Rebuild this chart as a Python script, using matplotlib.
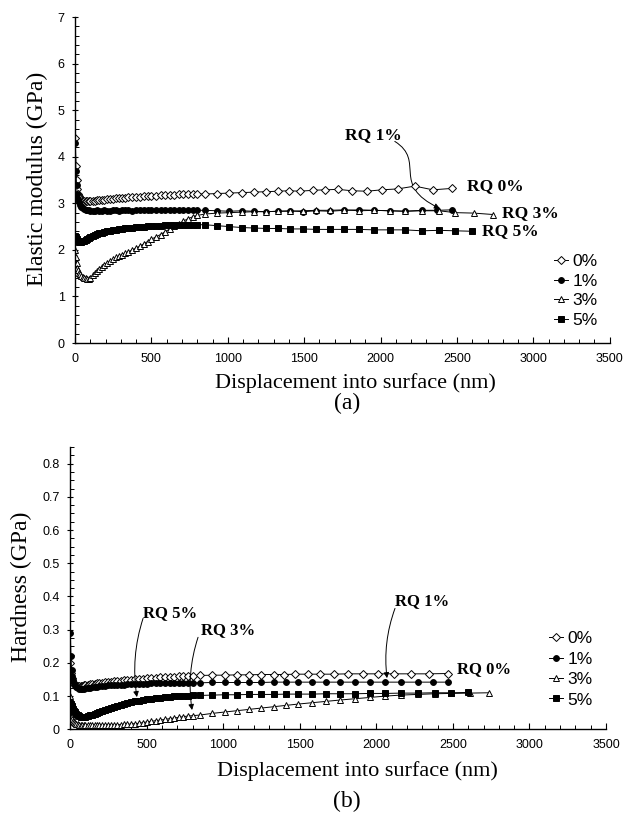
import matplotlib.pyplot as plt
import matplotlib.ticker as mtick
from matplotlib.path import Path
from matplotlib.patches import FancyArrowPatch

SERIF = 'Liberation Serif'
SANS = 'Liberation Sans'

# depth (nm) of the densely sampled start of every curve
depth_early = [2, 6, 10, 15, 20, 25, 30, 40, 50, 60, 70, 80, 90, 100,
               115, 130, 145, 160, 175, 190, 210, 230, 250, 270, 290, 310,
               330, 350, 375, 400, 425, 450, 475, 500, 530, 560, 590, 620,
               650, 680, 710, 740, 770, 800]

# later, sparser depths (nm)
late_0 = [850, 930, 1010, 1090, 1170, 1250, 1330, 1400, 1472, 1557, 1635,
          1721, 1812, 1910, 2008, 2113, 2224, 2342, 2466]
late_1 = [850, 930, 1010, 1090, 1170, 1250, 1330, 1410, 1490, 1580, 1670,
          1760, 1860, 1960, 2060, 2160, 2270, 2370, 2466]
late_3 = [850, 930, 1010, 1090, 1170, 1250, 1330, 1410, 1490, 1580, 1670,
          1760, 1860, 1960, 2060, 2160, 2270, 2380, 2490, 2610, 2735]
late_5 = [850, 930, 1010, 1090, 1170, 1250, 1330, 1410, 1490, 1580, 1670,
          1760, 1860, 1960, 2060, 2160, 2270, 2380, 2490, 2597]

# (a) elastic modulus, GPa
E0_early = [4.40, 3.80, 3.50, 3.30, 3.20, 3.15, 3.11, 3.08, 3.06, 3.05, 3.04,
            3.04, 3.04, 3.05, 3.05, 3.06, 3.07, 3.07, 3.08, 3.08, 3.09, 3.10,
            3.10, 3.11, 3.11, 3.12, 3.12, 3.13, 3.13, 3.14, 3.14, 3.15, 3.15,
            3.16, 3.16, 3.17, 3.17, 3.18, 3.18, 3.19, 3.19, 3.19, 3.20, 3.20]
E0_late = [3.20, 3.21, 3.22, 3.23, 3.24, 3.25, 3.26, 3.27, 3.26, 3.28, 3.29,
           3.30, 3.27, 3.26, 3.29, 3.31, 3.37, 3.29, 3.32]
E1_early = [4.30, 3.70, 3.40, 3.20, 3.10, 3.02, 2.97, 2.92, 2.89, 2.87, 2.86,
            2.85, 2.85, 2.84, 2.84, 2.84, 2.85, 2.84, 2.84, 2.85, 2.84, 2.84,
            2.85, 2.85, 2.84, 2.85, 2.85, 2.85, 2.84, 2.85, 2.85, 2.86, 2.85,
            2.85, 2.86, 2.86, 2.85, 2.86, 2.86, 2.85, 2.86, 2.86, 2.86, 2.85]
E1_late = [2.85, 2.84, 2.83, 2.84, 2.83, 2.82, 2.83, 2.84, 2.82, 2.84, 2.83,
           2.85, 2.86, 2.85, 2.84, 2.83, 2.85, 2.85, 2.86]
E3_early = [2.00, 1.85, 1.72, 1.62, 1.56, 1.51, 1.48, 1.44, 1.42, 1.40, 1.39,
            1.38, 1.38, 1.40, 1.45, 1.50, 1.55, 1.60, 1.64, 1.68, 1.72, 1.76,
            1.80, 1.84, 1.87, 1.90, 1.93, 1.96, 2.00, 2.04, 2.08, 2.13, 2.18,
            2.23, 2.28, 2.33, 2.39, 2.45, 2.51, 2.56, 2.62, 2.67, 2.71, 2.74]
E3_late = [2.77, 2.79, 2.80, 2.81, 2.82, 2.82, 2.83, 2.83, 2.84, 2.85, 2.85,
           2.86, 2.84, 2.85, 2.84, 2.83, 2.84, 2.84, 2.80, 2.79, 2.76]
E5_early = [2.30, 2.27, 2.24, 2.21, 2.19, 2.18, 2.18, 2.18, 2.19, 2.20, 2.22,
            2.24, 2.26, 2.28, 2.30, 2.32, 2.34, 2.36, 2.37, 2.38, 2.40, 2.41,
            2.42, 2.43, 2.44, 2.45, 2.46, 2.47, 2.48, 2.49, 2.50, 2.50, 2.51,
            2.51, 2.52, 2.52, 2.53, 2.53, 2.53, 2.54, 2.54, 2.54, 2.54, 2.54]
E5_late = [2.54, 2.52, 2.50, 2.48, 2.47, 2.46, 2.46, 2.45, 2.45, 2.44, 2.44,
           2.44, 2.44, 2.43, 2.43, 2.43, 2.41, 2.42, 2.41, 2.40]

# (b) hardness, GPa
H0_early = [0.200, 0.170, 0.155, 0.145, 0.140, 0.136, 0.133, 0.131, 0.130,
            0.130, 0.130, 0.131, 0.132, 0.133, 0.134, 0.135, 0.136, 0.137,
            0.138, 0.139, 0.140, 0.141, 0.142, 0.143, 0.144, 0.145, 0.146,
            0.147, 0.148, 0.149, 0.150, 0.151, 0.152, 0.153, 0.154, 0.155,
            0.156, 0.157, 0.158, 0.158, 0.159, 0.160, 0.160, 0.161]
H0_late = [0.162, 0.163, 0.163, 0.164, 0.164, 0.165, 0.165, 0.165, 0.166,
           0.166, 0.166, 0.166, 0.167, 0.167, 0.167, 0.167, 0.167, 0.167, 0.168]
H1_early = [0.290, 0.220, 0.180, 0.160, 0.148, 0.139, 0.133, 0.127, 0.124,
            0.122, 0.121, 0.121, 0.122, 0.123, 0.124, 0.125, 0.126, 0.127,
            0.128, 0.129, 0.130, 0.131, 0.132, 0.132, 0.133, 0.133, 0.134,
            0.134, 0.135, 0.135, 0.136, 0.136, 0.137, 0.137, 0.138, 0.138,
            0.138, 0.139, 0.139, 0.139, 0.140, 0.140, 0.140, 0.140]
H1_late = [0.140, 0.141, 0.141, 0.141, 0.141, 0.141, 0.142, 0.142, 0.142,
           0.142, 0.142, 0.142, 0.142, 0.142, 0.142, 0.142, 0.142, 0.142, 0.142]
H3_early = [0.100, 0.060, 0.040, 0.030, 0.025, 0.022, 0.020, 0.017, 0.015,
            0.014, 0.013, 0.012, 0.012, 0.012, 0.012, 0.012, 0.012, 0.012,
            0.012, 0.012, 0.012, 0.013, 0.013, 0.013, 0.013, 0.014, 0.014,
            0.015, 0.015, 0.016, 0.017, 0.018, 0.020, 0.022, 0.024, 0.026,
            0.028, 0.030, 0.032, 0.034, 0.036, 0.038, 0.040, 0.041]
H3_late = [0.043, 0.048, 0.052, 0.056, 0.060, 0.064, 0.068, 0.072, 0.076,
           0.080, 0.084, 0.088, 0.092, 0.096, 0.100, 0.103, 0.105, 0.107,
           0.108, 0.109, 0.110]
H5_early = [0.080, 0.075, 0.070, 0.065, 0.060, 0.056, 0.052, 0.047, 0.043,
            0.040, 0.038, 0.037, 0.037, 0.038, 0.040, 0.042, 0.044, 0.047,
            0.050, 0.053, 0.056, 0.059, 0.062, 0.065, 0.068, 0.071, 0.073,
            0.076, 0.079, 0.082, 0.084, 0.086, 0.088, 0.090, 0.092, 0.094,
            0.095, 0.097, 0.098, 0.099, 0.100, 0.101, 0.101, 0.102]
H5_late = [0.102, 0.103, 0.104, 0.104, 0.105, 0.105, 0.105, 0.106, 0.106,
           0.106, 0.107, 0.107, 0.107, 0.108, 0.108, 0.109, 0.109, 0.110,
           0.110, 0.111]

styles = {
    '0%': dict(marker='D', mfc='white', ms=4.0),
    '1%': dict(marker='o', mfc='black', ms=4.2),
    '3%': dict(marker='^', mfc='white', ms=4.8),
    '5%': dict(marker='s', mfc='black', ms=4.2),
}


def draw(ax, x, y, label):
    ax.plot(x, y, color='black', lw=0.7, mec='black', mew=0.7,
            label=label, **styles[label])


def style_axes(ax, ymax, ymajor, yminor, yfmt):
    ax.set_xlim(0, 3500)
    ax.set_ylim(0, ymax)
    for s in ['top', 'right']:
        ax.spines[s].set_visible(False)
    for s in ['left', 'bottom']:
        ax.spines[s].set_linewidth(1.0)
    ax.xaxis.set_major_locator(mtick.MultipleLocator(500))
    ax.xaxis.set_minor_locator(mtick.MultipleLocator(100))
    ax.yaxis.set_major_locator(mtick.MultipleLocator(ymajor))
    ax.yaxis.set_minor_locator(mtick.MultipleLocator(yminor))
    ax.yaxis.set_major_formatter(mtick.FuncFormatter(yfmt))
    ax.tick_params(axis='x', which='major', direction='in', length=4, width=0.8, pad=7)
    ax.tick_params(axis='x', which='minor', direction='in', length=3, width=0.7)
    ax.tick_params(axis='y', which='major', direction='inout', length=5, width=0.8, pad=5)
    ax.tick_params(axis='y', which='minor', direction='in', length=3, width=0.7)
    for t in ax.get_xticklabels() + ax.get_yticklabels():
        t.set_fontfamily(SANS)
        t.set_fontsize(9)


fig = plt.figure(figsize=(6.24, 8.21), dpi=100)
ax1 = fig.add_axes([0.1202, 0.5822, 0.857, 0.397])
ax2 = fig.add_axes([0.1122, 0.1117, 0.859, 0.3438])

# ---- (a) elastic modulus
draw(ax1, depth_early + late_0, E0_early + E0_late, '0%')
draw(ax1, depth_early + late_1, E1_early + E1_late, '1%')
draw(ax1, depth_early + late_3, E3_early + E3_late, '3%')
draw(ax1, depth_early + late_5, E5_early + E5_late, '5%')
style_axes(ax1, 7, 1, 0.2, lambda v, _: f'{v:.0f}')
ax1.set_xlabel('Displacement into surface (nm)', family=SERIF, fontsize=16, va='center')
ax1.xaxis.set_label_coords(0.525, -0.123)
ax1.set_ylabel('Elastic modulus (GPa)', family=SERIF, fontsize=17, va='center')
ax1.yaxis.set_label_coords(-0.071, 0.505)

rq = dict(family=SERIF, fontweight='bold', fontsize=12.5, va='center')
ax1.text(1950, 4.46, 'RQ 1%', ha='center', **rq)
ax1.text(2564, 3.38, 'RQ 0%', ha='left', **rq)
ax1.text(2793, 2.80, 'RQ 3%', ha='left', **rq)
ax1.text(2663, 2.41, 'RQ 5%', ha='left', **rq)
arrow_path = Path([(2093, 4.33), (2300, 3.90), (2060, 3.40), (2388, 2.89)],
                  [Path.MOVETO, Path.CURVE4, Path.CURVE4, Path.CURVE4])
ax1.add_patch(FancyArrowPatch(path=arrow_path, arrowstyle='-|>', mutation_scale=8,
                              lw=0.7, color='black', transform=ax1.transData))

ax1.legend(loc='center left', bbox_to_anchor=(0.895, 0.16), frameon=False,
           prop={'family': SANS, 'size': 12.5}, handlelength=0.8,
           handletextpad=0.3, labelspacing=0.25, borderpad=0, borderaxespad=0)

# ---- (b) hardness
draw(ax2, depth_early + late_0, H0_early + H0_late, '0%')
draw(ax2, depth_early + late_1, H1_early + H1_late, '1%')
draw(ax2, depth_early + late_3, H3_early + H3_late, '3%')
draw(ax2, depth_early + late_5, H5_early + H5_late, '5%')
style_axes(ax2, 0.85, 0.1, 0.025, lambda v, _: '0' if abs(v) < 1e-9 else f'{v:.1f}')
ax2.set_xlabel('Displacement into surface (nm)', family=SERIF, fontsize=16, va='center')
ax2.xaxis.set_label_coords(0.537, -0.148)
ax2.set_ylabel('Hardness (GPa)', family=SERIF, fontsize=17, va='center')
ax2.yaxis.set_label_coords(-0.09, 0.504)

rq2 = dict(family=SERIF, fontweight='bold', fontsize=12, va='center', ha='center')
ax2.text(2299, 0.385, 'RQ 1%', **rq2)
ax2.text(2527, 0.181, 'RQ 0%', **dict(rq2, ha='left'))
ax2.text(653, 0.350, 'RQ 5%', **rq2)
ax2.text(1032, 0.298, 'RQ 3%', **rq2)
arrows_b = [((2122, 0.364), (2070, 0.154)),
            ((477, 0.334), (437, 0.097)),
            ((836, 0.277), (797, 0.058))]
for start, tip in arrows_b:
    ax2.annotate('', xy=tip, xytext=start,
                 arrowprops=dict(arrowstyle='-|>', connectionstyle='arc3,rad=0.12',
                                 lw=0.7, color='black', mutation_scale=8,
                                 shrinkA=0, shrinkB=0))

ax2.legend(loc='center left', bbox_to_anchor=(0.893, 0.212), frameon=False,
           prop={'family': SANS, 'size': 12.5}, handlelength=0.8,
           handletextpad=0.3, labelspacing=0.3, borderpad=0, borderaxespad=0)

fig.text(0.556, 0.509, '(a)', family=SERIF, fontsize=17, ha='center', va='center')
fig.text(0.556, 0.0244, '(b)', family=SERIF, fontsize=17, ha='center', va='center')

fig.savefig('out.png', dpi=100)
